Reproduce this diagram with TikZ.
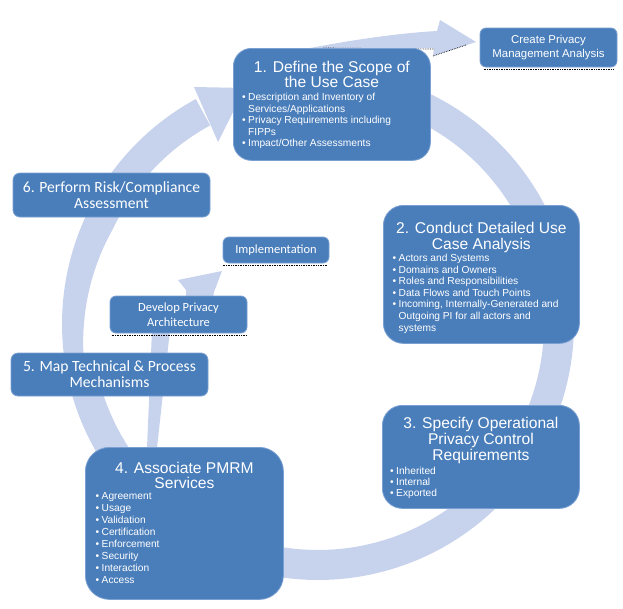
\documentclass[tikz,border=0pt]{standalone}
\usepackage{fontspec}
\setmainfont{Liberation Sans}
\newfontfamily\calibri{Carlito}
\usetikzlibrary{positioning}
\definecolor{boxblue}{RGB}{74,126,187}
\definecolor{boxedge}{RGB}{122,160,210}
\definecolor{ringblue}{RGB}{199,210,237}
\newcommand{\bitem}[1]{\makebox[6pt][l]{\textbullet}#1}
\newcommand{\bcont}[1]{\makebox[6pt]{}#1}
\begin{document}
\begin{tikzpicture}[x=1pt,y=1pt,
		declare function={rin(\x)=226+12*(\x>155)*(\x<192)*(\x-155)/37;},
		stage/.style={fill=boxblue,draw=boxedge,line width=0.8pt,inner sep=0pt,anchor=north west},
		task/.style={fill=boxblue,draw=boxedge,line width=0.8pt,inner sep=0pt,rounded corners=6pt,text=white,align=center},
		heading/.style={text=white,align=center,inner sep=0pt,anchor=north},
		points/.style={text=white,align=left,inner sep=0pt,anchor=north west},
		flow/.style={fill=ringblue},
		shade/.style={black,densely dotted,line width=0.7pt}]
		\useasboundingbox (0,0) rectangle (623,-608);
		\fill[flow] plot[domain=118.5:440,samples=200] ({318+256*cos(\x)},{-324+256*sin(\x)})
			-- plot[domain=440:118.5,samples=200] ({318+rin(\x)*cos(\x)},{-324+rin(\x)*sin(\x)}) -- cycle;
		\fill[flow] (194,-87) -- (245,-88) -- (218,-142) -- cycle;
		\fill[flow] (300,-50) .. controls (350,-40) and (400,-33) .. (437,-31) -- (440,-20) -- (476,-42) -- (433,-56) -- (434,-48) .. controls (400,-48) and (350,-50) .. (300,-54) -- cycle;
		\draw[shade] (323,-48) -- (434,-49);
		\draw[shade] (433,-56) -- (466,-45);
		\fill[flow] (147,-448) -- (157,-448) -- (170,-330) -- (152,-330) -- cycle;
		\fill[flow] (178,-280) -- (222,-271) -- (214,-292) -- (213,-298) -- (186,-298) -- (186,-290) -- cycle;

		\node[stage,rounded corners=18pt,minimum width=197pt,minimum height=112pt] (scope) at (233,-48) {};
		\node[heading,font=\fontsize{15.6}{14}\selectfont] (scopetitle) at ([yshift=-12.7pt]scope.north) {1. Define the Scope of\\the Use Case};
		\node[points,font=\fontsize{10.2}{11.5}\selectfont] (scopelist) at (242,-93.3) {\bitem{Description and Inventory of}\\\bcont{Services/Applications}\\\bitem{Privacy Requirements  including}\\\bcont{FIPPs}\\\bitem{Impact/Other Assessments}};

		\node[stage,rounded corners=20pt,minimum width=196pt,minimum height=138pt] (usecase) at (383,-205) {};
		\node[heading,font=\fontsize{15.6}{16}\selectfont] (usecasetitle) at ([yshift=-16.7pt]usecase.north) {2. Conduct Detailed Use\\Case Analysis};
		\node[points,font=\fontsize{10.2}{11.6}\selectfont] (usecaselist) at (392.5,-254) {\bitem{Actors and Systems}\\\bitem{Domains and Owners}\\\bitem{Roles and Responsibilities}\\\bitem{Data Flows and Touch Points}\\\bitem{Incoming, Internally-Generated and}\\\bcont{Outgoing PI for all actors and}\\\bcont{systems}};

		\node[stage,rounded corners=20pt,minimum width=197pt,minimum height=103pt] (control) at (382,-405) {};
		\node[heading,font=\fontsize{15.6}{16}\selectfont] (controltitle) at ([yshift=-11.7pt]control.north) {3. Specify Operational\\Privacy Control\\Requirements};
		\node[points,font=\fontsize{10.2}{11.3}\selectfont] (controllist) at (390,-466.7) {\bitem{Inherited}\\\bitem{Internal}\\\bitem{Exported}};

		\node[stage,rounded corners=24pt,minimum width=198pt,minimum height=152pt] (services) at (85,-447) {};
		\node[heading,font=\fontsize{15.6}{15}\selectfont] (servicestitle) at ([yshift=-14.7pt]services.north) {4. Associate PMRM\\Services};
		\node[points,font=\fontsize{10.2}{11.9}\selectfont] (serviceslist) at (95.5,-492.7) {\bitem{Agreement}\\\bitem{Usage}\\\bitem{Validation}\\\bitem{Certification}\\\bitem{Enforcement}\\\bitem{Security}\\\bitem{Interaction}\\\bitem{Access}};

		\node[task,rounded corners=7pt,minimum width=197pt,minimum height=44pt,font=\calibri\fontsize{15.6}{16}\selectfont] (risk) at (111.5,-195) {6. Perform Risk/Compliance\\Assessment};
		\node[task,rounded corners=7pt,minimum width=197pt,minimum height=43pt,font=\calibri\fontsize{15.6}{16}\selectfont] (mechanisms) at (109.5,-374.5) {5. Map Technical \& Process\\Mechanisms};

		\node[task,minimum width=137pt,minimum height=39pt,font=\fontsize{11.4}{13.8}\selectfont] (analysis) at (548.5,-47.5) {Create Privacy\\Management Analysis};
		\node[task,minimum width=106pt,minimum height=26pt,font=\calibri\fontsize{12.5}{15}\selectfont] (implementation) at (276,-250) {Implementation};
		\node[task,minimum width=137pt,minimum height=37pt,font=\calibri\fontsize{12.5}{15.4}\selectfont] (architecture) at (178.5,-314.5) {Develop Privacy\\Architecture};
		\draw[shade] ([xshift=4pt,yshift=-1.6pt]analysis.south west) -- ([xshift=-3pt,yshift=-1.6pt]analysis.south east);
		\draw[shade] ([yshift=-1.6pt]implementation.south west) -- ([xshift=-2pt,yshift=-1.6pt]implementation.south east);
		\draw[shade] ([xshift=2pt,yshift=-1.8pt]architecture.south west) -- ([xshift=-1pt,yshift=-1.8pt]architecture.south east);
	\end{tikzpicture}
\end{document}
